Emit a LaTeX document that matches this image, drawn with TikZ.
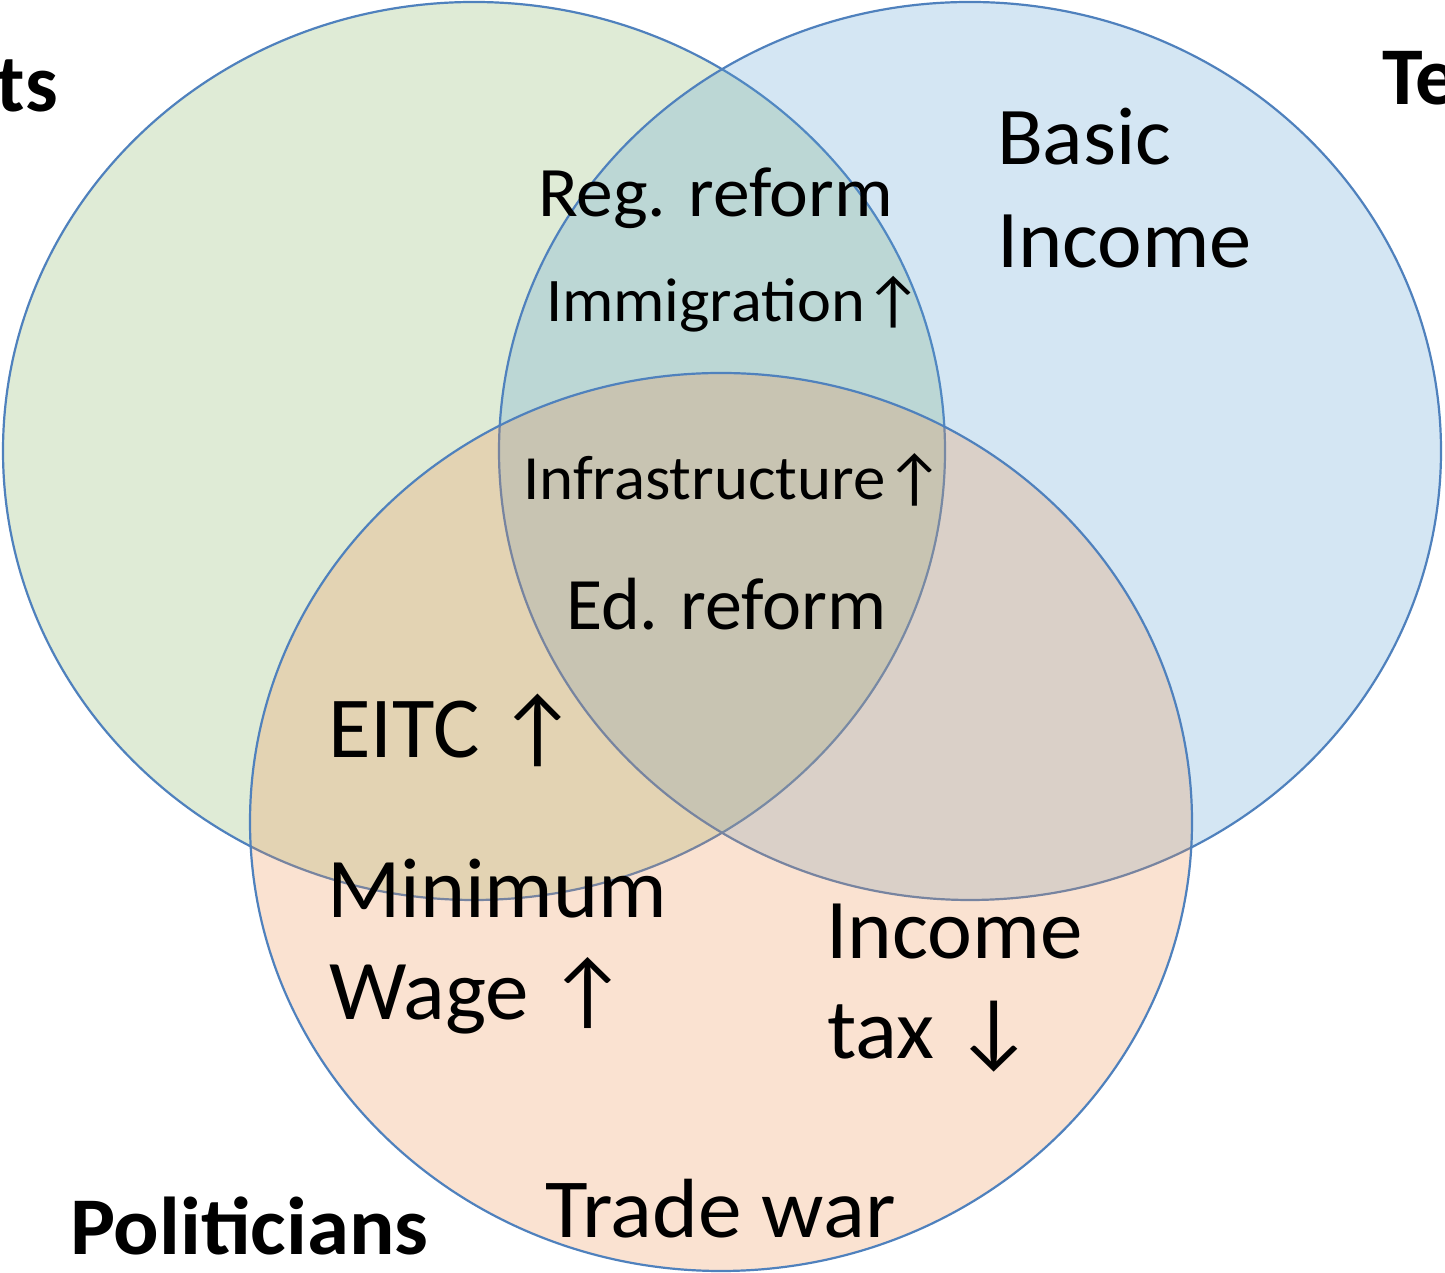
\documentclass[tikz,border=0pt]{standalone}
\usepackage{fontspec}
\setmainfont{Carlito}
\definecolor{vgreen}{RGB}{131,179,95}
\definecolor{vblue}{RGB}{87,159,211}
\definecolor{vorange}{RGB}{239,143,75}
\definecolor{strokeblue}{RGB}{79,129,189}
\begin{document}
\begin{tikzpicture}[x=1pt,y=1pt]
\tikzset{
  vset/.style={draw=strokeblue, line width=2.2pt, fill opacity=0.25},
  lbl/.style={anchor=base west, inner sep=0pt, outer sep=0pt},
}
\newcommand{\fs}[1]{\fontsize{#1}{#1}\selectfont}
\newcommand{\wx}[2]{\scalebox{#1}[1]{#2}}
\useasboundingbox (0,0) rectangle (1445,1273);
\clip (0,0) rectangle (1445,1273);
\fill[white] (0,0) rectangle (1445,1273);
\draw[vset, fill=vgreen] (474,822) ellipse [x radius=471, y radius=449];
\draw[vset, fill=vblue] (970,822) ellipse [x radius=471, y radius=449];
\draw[vset, fill=vorange] (721,451) ellipse [x radius=471, y radius=449];
% group labels
\node[lbl, anchor=base east, font=\fs{82}\bfseries] (econ) at (58,1161) {ts};
\node[lbl, font=\fs{82}\bfseries] (tech) at (1382,1168) {Te};
\node[lbl, font=\fs{82}\bfseries] (pol) at (70,18) {\wx{1.035}{Politicians}};
% contents
\node[lbl, font=\fs{82}] (basic) at (997,1108) {\wx{1.03}{Basic}};
\node[lbl, font=\fs{82}] (income1) at (997,1005) {\wx{1.03}{Income}};
\node[lbl, font=\fs{71}] (reg) at (538,1056) {\wx{1.035}{Reg. reform}};
\node[lbl, font=\fs{62}] (immi) at (546,951) {\wx{1.037}{Immigration↑}};
\node[lbl, font=\fs{63}] (infra) at (523,773) {\wx{1.03}{Infrastructure↑}};
\node[lbl, font=\fs{74}] (ed) at (566,643) {Ed. reform};
\node[lbl, font=\fs{87}] (eitc) at (328,515) {EITC ↑};
\node[lbl, font=\fs{85}] (minw) at (327,355) {\wx{1.01}{Minimum}};
\node[lbl, font=\fs{85}] (wage) at (329,253) {\wx{1.025}{Wage ↑}};
\node[lbl, font=\fs{85}] (income2) at (826,314) {Income};
\node[lbl, font=\fs{85}] (tax) at (827,214) {\wx{1.03}{tax ↓}};
\node[lbl, font=\fs{84}] (trade) at (545,35) {\wx{1.04}{Trade war}};
\end{tikzpicture}
\end{document}
